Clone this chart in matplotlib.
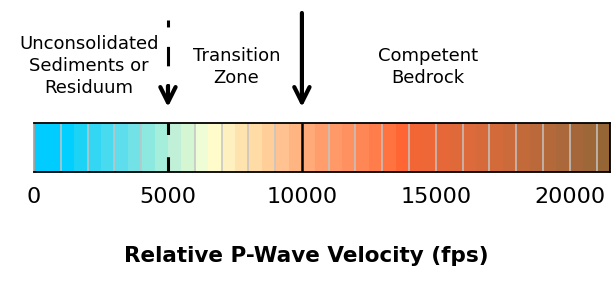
import matplotlib
matplotlib.use("Agg")
import matplotlib.pyplot as plt
import matplotlib.transforms as mtransforms

plt.rcParams["font.family"] = ["DejaVu Sans"]
plt.rcParams["lines.scale_dashes"] = False

# velocity bins (fps), each 500 wide, with the colour of the strip
bin_starts = [0, 500, 1000, 1500, 2000, 2500, 3000, 3500, 4000, 4500,
              5000, 5500, 6000, 6500, 7000, 7500, 8000, 8500, 9000, 9500,
              10000, 10500, 11000, 11500, 12000, 12500, 13000, 13500, 14000, 14500,
              15000, 15500, 16000, 16500, 17000, 17500, 18000, 18500, 19000, 19500,
              20000, 20500, 21000]
bin_width = 500
bin_colors = ["#00CCFF", "#00CCFF", "#00CFFF", "#1CD3F5", "#33D6F3", "#48DBEF",
              "#5EDEEC", "#72E2E6", "#8DE8E0", "#A6EEDC",
              "#C0F1D8", "#D5F6D3", "#EEFDD5", "#FFFBCA", "#FFF0C0", "#FFE3AE",
              "#FFDBA5", "#FFCE99", "#FFC290", "#FFB582",
              "#FFAA78", "#FF9E6C", "#FF9A68", "#FF9060", "#FF8755", "#FF7D4A",
              "#FF7340", "#FF6633", "#F26535", "#EE6736",
              "#E66838", "#E0693A", "#DD6A3A", "#D76A3A", "#D36A3A", "#CB6A3A",
              "#C26A3A", "#BB693A", "#B4693A", "#AB683A",
              "#A5673A", "#9E6738", "#966536"]

grid_lines = [0, 1000, 2000, 3000, 4000, 6000, 7000, 8000, 9000,
              11000, 12000, 13000, 14000, 15000, 16000, 17000, 18000, 19000, 20000, 21000]
tick_values = [0, 5000, 10000, 15000, 20000]
tick_labels = ["0", "5000", "10000", "15000", "20000"]

boundary_soft = 5000    # sediments / transition
boundary_rock = 10000   # transition / bedrock

zone_labels = ["Unconsolidated\nSediments or\nResiduum", "Transition\nZone", "Competent\nBedrock"]
zone_x = [2050, 7550, 14700]

W, H = 612, 282
fig = plt.figure(figsize=(W / 100, H / 100), dpi=100)
ax = fig.add_axes([34 / W, (H - 172) / H, 576 / W, 49 / H])

ax.bar(bin_starts, [1] * len(bin_starts), width=bin_width, align="edge",
       color=bin_colors, linewidth=0)
ax.vlines(grid_lines, 0, 1, color="#C4C4C4", lw=1.1)
ax.vlines(boundary_rock, 0, 1, color="black", lw=1.8)
ax.vlines(boundary_soft, 0, 1, color="black", lw=2.2, linestyles=[(0, (11, 16))])

ax.set_xlim(0, 21500)
ax.set_ylim(0, 1)
ax.set_yticks([])
for s in ["top", "bottom"]:
    ax.spines[s].set_linewidth(1.3)
ax.spines["left"].set_color("#9A9A9A")
ax.spines["left"].set_linewidth(1.1)
ax.spines["right"].set_linewidth(1.3)

ax.set_xticks(tick_values)
ax.set_xticklabels(tick_labels, fontsize=16)
ax.tick_params(axis="x", length=0, pad=11)

ax.set_xlabel("Relative P-Wave Velocity (fps)", fontsize=15.5, fontweight="bold")
ax.xaxis.set_label_coords((306 - 34) / 576, (172 - 256) / 49)
ax.xaxis.label.set_va("center")

# x in data, y in figure pixels from the top
trans = mtransforms.blended_transform_factory(ax.transData, fig.transFigure)


def fy(py):
    return 1 - py / H


# dashed boundary arrow
ax.plot([boundary_soft, boundary_soft], [fy(20), fy(90)], transform=trans,
        color="black", lw=2.2, linestyle=(0, (5, 14, 14, 13)), clip_on=False)
ax.annotate("", xy=(boundary_soft, fy(107)), xytext=(boundary_soft, fy(86)),
            xycoords=trans, textcoords=trans,
            arrowprops=dict(arrowstyle="->,head_length=1.1,head_width=0.55",
                            lw=3, color="black", shrinkA=0, shrinkB=0))

# solid boundary arrow
ax.annotate("", xy=(boundary_rock, fy(107)), xytext=(boundary_rock, fy(13)),
            xycoords=trans, textcoords=trans,
            arrowprops=dict(arrowstyle="->,head_length=1.1,head_width=0.55",
                            lw=3, color="black", shrinkA=0, shrinkB=0))

zone_y = [66, 67, 67]
for lbl, x, y in zip(zone_labels, zone_x, zone_y):
    ax.text(x, fy(y), lbl, transform=trans, ha="center", va="center",
            fontsize=13, linespacing=1.3)

fig.savefig("out.png", dpi=100)
